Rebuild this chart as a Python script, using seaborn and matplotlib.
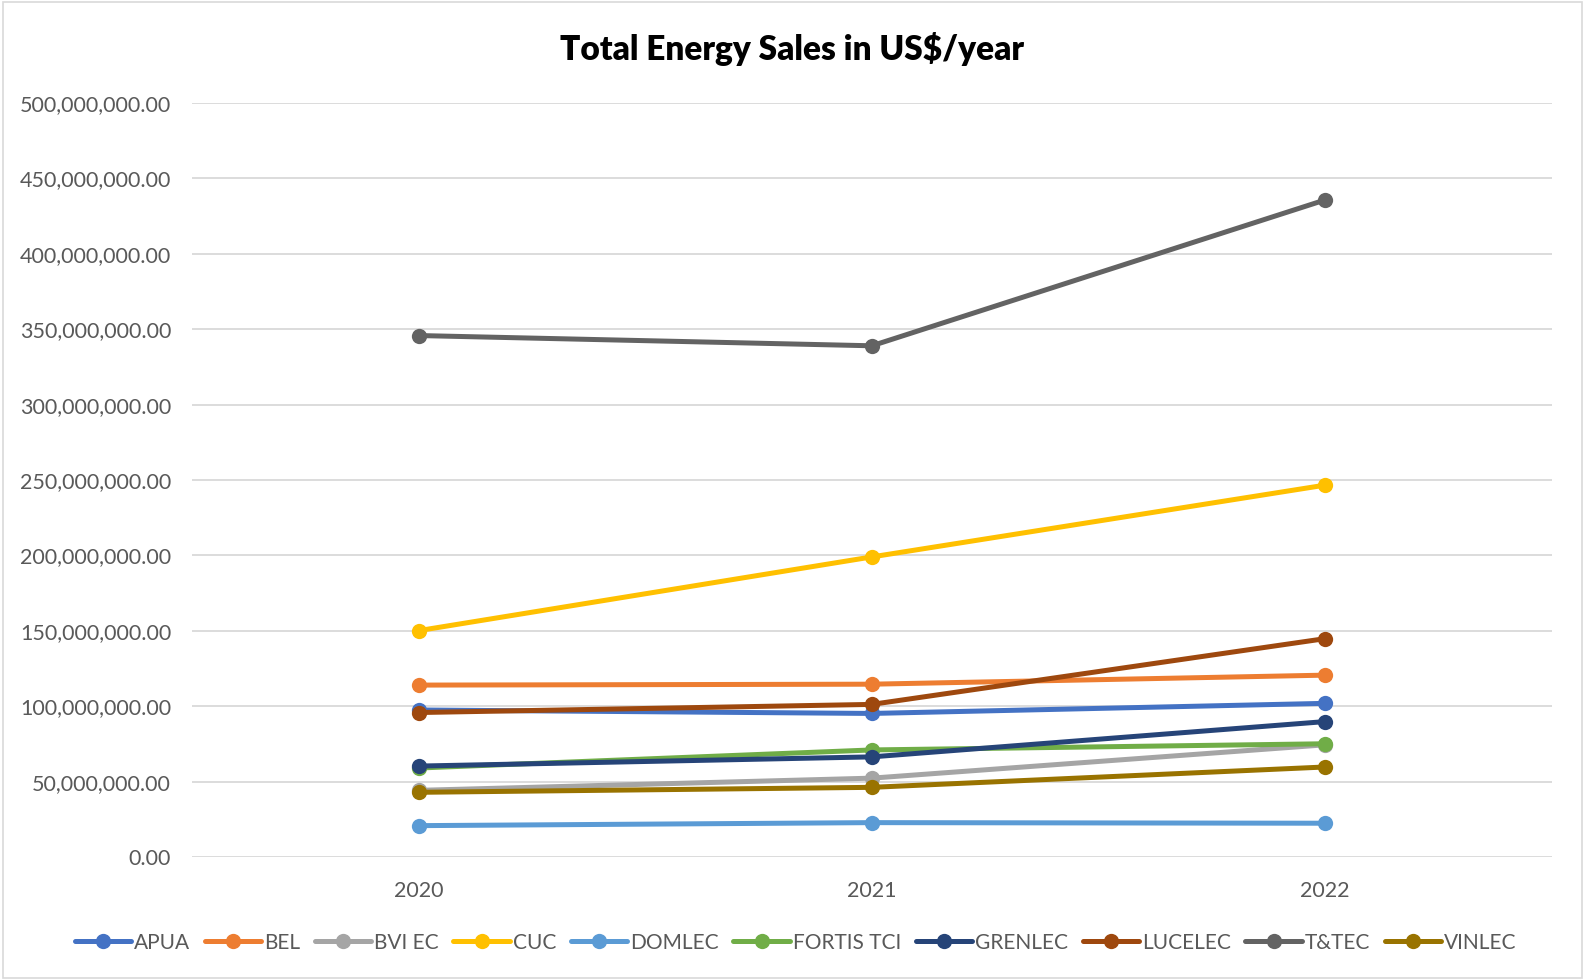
import matplotlib
matplotlib.use("Agg")
import matplotlib.pyplot as plt
import matplotlib.patches as mpatches
import matplotlib.ticker as mticker
import seaborn as sns
import pandas as pd

years = ["2020", "2021", "2022"]
utilities = ["APUA", "BEL", "BVI EC", "CUC", "DOMLEC", "FORTIS TCI",
             "GRENLEC", "LUCELEC", "T&TEC", "VINLEC"]
apua = [97.5e6, 95.2e6, 101.9e6]
bel = [114.0e6, 114.6e6, 120.6e6]
bvi_ec = [44.2e6, 52.3e6, 74.4e6]
cuc = [150.1e6, 199.0e6, 246.6e6]
domlec = [20.8e6, 22.8e6, 22.4e6]
fortis_tci = [59.0e6, 71.0e6, 75.1e6]
grenlec = [60.3e6, 66.4e6, 89.8e6]
lucelec = [95.8e6, 101.2e6, 144.8e6]
ttec = [345.8e6, 339.0e6, 435.7e6]
vinlec = [42.9e6, 46.2e6, 59.7e6]
series = [apua, bel, bvi_ec, cuc, domlec, fortis_tci, grenlec, lucelec, ttec, vinlec]

colors = ["#4472C4", "#ED7D31", "#A5A5A5", "#FFC000", "#5B9BD5", "#70AD47",
          "#264478", "#9E480E", "#636363", "#997300"]

rows = []
for name, vals in zip(utilities, series):
    for y, v in zip(years, vals):
        rows.append({"Year": y, "Utility": name, "Sales": v})
df = pd.DataFrame(rows)

sns.set_theme(style="white")
plt.rcParams['font.family'] = ['Lato', 'DejaVu Sans']

fig = plt.figure(figsize=(15.85, 9.8), dpi=100)
ax = fig.add_axes([0.1211, 0.1255, 0.979 - 0.1211, 0.8949 - 0.1255])

sns.lineplot(data=df, x="Year", y="Sales", hue="Utility", hue_order=utilities,
             palette=colors, marker="o", markersize=11, markeredgewidth=0,
             linewidth=3.6, ax=ax, sort=False)

ax.set_xlim(-0.5, 2.5)
ax.set_ylim(0, 500e6)
ax.yaxis.set_major_locator(mticker.MultipleLocator(50e6))
ax.yaxis.set_major_formatter(mticker.FuncFormatter(lambda v, p: f"{v:,.2f}"))
ax.grid(axis="y", color="#D9D9D9", linewidth=1.3)
ax.grid(axis="x", visible=False)
ax.set_axisbelow(True)
for s in ax.spines.values():
    s.set_visible(False)
ax.set_xlabel("")
ax.set_ylabel("")
ax.tick_params(axis="both", length=0, labelsize=15.5, labelcolor="#595959")
ax.tick_params(axis="y", pad=15)
ax.tick_params(axis="x", pad=17)

handles, labels = ax.get_legend_handles_labels()
ax.legend(handles, labels, loc="center", bbox_to_anchor=(0.502, 0.038),
          bbox_transform=fig.transFigure, ncol=10, frameon=False,
          handlelength=2.7, handletextpad=0.15, columnspacing=0.7,
          fontsize=15, labelcolor="#595959")

fig.text(0.4997, 0.9505, "Total Energy Sales in US$/year", ha="center",
         va="center", fontsize=24, fontweight="heavy", color="black")

fig.patches.append(mpatches.Rectangle((0.002, 0.002), 0.996, 0.996,
                   transform=fig.transFigure, fill=False,
                   edgecolor="#D9D9D9", linewidth=1.2))

fig.savefig("out.png", dpi=100)
